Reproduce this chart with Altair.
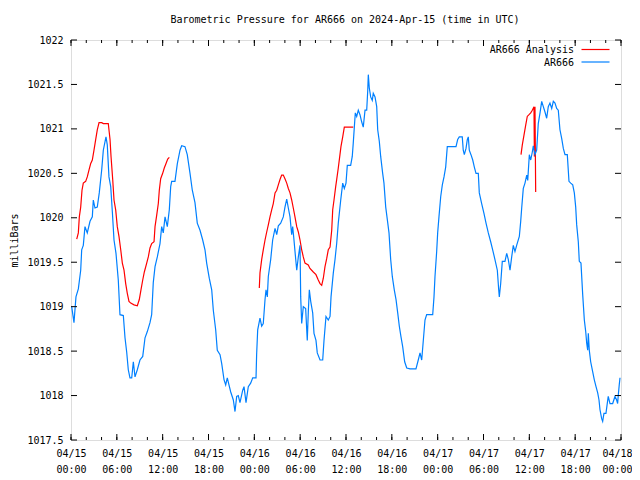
import altair as alt
import pandas as pd

# ---- data (hours since 2024-04-15 00:00 UTC, pressure in mb) ----
blue_hours = [0.09, 0.39, 0.65, 0.96, 1.27, 1.40, 1.61, 1.83, 2.13, 2.49, 2.79, 2.92, 3.14, 3.44, 3.70,
              4.02, 4.23, 4.58, 4.75, 4.97, 5.20, 5.41, 5.63, 5.89, 6.19, 6.41, 6.85, 7.07, 7.29, 7.50,
              7.72, 7.95, 8.16, 8.38, 8.68, 9.03, 9.39, 9.69, 9.99, 10.34, 10.56, 10.77, 11.00, 11.30,
              11.65, 11.87, 12.08, 12.31, 12.61, 12.87, 13.05, 13.18, 13.61, 13.92, 14.27, 14.49, 14.92,
              15.22, 15.58, 15.88, 16.23, 16.53, 16.89, 17.24, 17.54, 17.76, 18.10, 18.42, 18.63, 18.94,
              19.15, 19.51, 19.73, 20.03, 20.25, 20.46, 20.68, 20.91, 21.25, 21.47, 21.69, 21.90, 22.12,
              22.48, 22.65, 22.91, 23.21, 23.52, 23.79, 24.22, 24.30, 24.44, 24.74, 24.96, 25.17, 25.40,
              25.53, 25.70, 25.83, 26.14, 26.40, 26.71, 26.93, 27.14, 27.45, 27.79, 28.01, 28.24, 28.45,
              28.67, 28.89, 29.02, 29.19, 29.42, 29.55, 29.76, 29.98, 30.07, 30.20, 30.41, 30.72, 30.93,
              31.06, 31.20, 31.38, 31.64, 31.81, 32.07, 32.24, 32.60, 32.95, 33.12, 33.38, 33.68, 33.91,
              34.04, 34.34, 34.56, 34.78, 34.99, 35.31, 35.57, 35.78, 36.00, 36.17, 36.61, 36.82, 36.95,
              37.09, 37.22, 37.40, 37.61, 37.83, 38.05, 38.26, 38.49, 38.71, 38.84, 38.92, 39.05, 39.23,
              39.44, 39.57, 39.80, 40.02, 40.15, 40.36, 40.54, 40.80, 40.97, 41.20, 41.41, 41.63, 41.85,
              42.06, 42.32, 42.55, 42.77, 42.98, 43.20, 43.42, 43.68, 43.95, 44.38, 45.16, 45.46, 45.69,
              45.91, 46.12, 46.34, 46.56, 47.35, 47.52, 47.65, 47.87, 48.00, 48.17, 48.40, 48.61, 48.83,
              49.05, 49.26, 50.40, 50.62, 50.83, 51.22, 51.35, 51.49, 51.71, 51.88, 52.01, 52.14, 52.36,
              52.59, 52.80, 53.02, 53.32, 53.45, 53.76, 54.06, 54.33, 54.63, 54.94, 55.20, 55.50, 55.81,
              55.99, 56.07, 56.25, 56.46, 56.81, 57.04, 57.25, 57.47, 57.69, 57.90, 58.12, 58.34, 58.69,
              58.87, 59.00, 59.21, 59.43, 59.66, 59.79, 60.00, 60.18, 60.39, 60.52, 60.74, 60.96, 61.17,
              61.40, 61.62, 61.83, 62.05, 62.27, 62.48, 62.70, 62.93, 63.14, 63.36, 63.58, 63.79, 64.01,
              64.24, 64.45, 64.67, 64.97, 65.19, 65.42, 65.68, 65.89, 66.07, 66.20, 66.41, 66.54, 66.76,
              66.99, 67.20, 67.38, 67.51, 67.64, 67.72, 67.85, 68.03, 68.29, 68.50, 68.73, 68.95, 69.12,
              69.25, 69.47, 69.60, 69.77, 70.03, 70.20, 70.33, 70.56, 70.91, 71.21, 71.43, 71.56, 71.64,
              71.77, 71.87]
blue_mb = [1019.00, 1018.82, 1019.11, 1019.20, 1019.41, 1019.64, 1019.69, 1019.90, 1019.83, 1019.96, 1020.01,
           1020.20, 1020.11, 1020.12, 1020.28, 1020.54, 1020.76, 1020.91, 1020.82, 1020.46, 1020.35, 1020.07,
           1019.75, 1019.60, 1019.30, 1018.91, 1018.90, 1018.65, 1018.49, 1018.29, 1018.20, 1018.20, 1018.38,
           1018.21, 1018.29, 1018.40, 1018.44, 1018.65, 1018.72, 1018.82, 1018.91, 1019.27, 1019.45, 1019.56,
           1019.71, 1019.90, 1019.83, 1020.01, 1019.90, 1020.09, 1020.35, 1020.41, 1020.41, 1020.61, 1020.76,
           1020.81, 1020.80, 1020.71, 1020.50, 1020.31, 1020.17, 1019.94, 1019.86, 1019.75, 1019.64, 1019.49,
           1019.32, 1019.19, 1018.96, 1018.74, 1018.51, 1018.46, 1018.36, 1018.18, 1018.12, 1018.20, 1018.12,
           1018.04, 1017.95, 1017.82, 1017.99, 1018.00, 1017.92, 1018.06, 1018.10, 1017.92, 1018.10, 1018.14,
           1018.20, 1018.20, 1018.46, 1018.74, 1018.87, 1018.78, 1018.81, 1019.08, 1019.19, 1019.11, 1019.34,
           1019.53, 1019.75, 1019.88, 1019.81, 1019.91, 1019.94, 1020.01, 1020.12, 1020.21, 1020.11, 1020.01,
           1019.81, 1019.90, 1019.75, 1019.53, 1019.41, 1019.56, 1019.69, 1019.11, 1018.81, 1019.00, 1018.98,
           1018.62, 1018.93, 1019.19, 1019.06, 1018.93, 1018.70, 1018.62, 1018.48, 1018.40, 1018.40, 1018.62,
           1018.89, 1018.85, 1018.89, 1019.11, 1019.38, 1019.53, 1019.71, 1019.94, 1020.20, 1020.39, 1020.33,
           1020.39, 1020.59, 1020.59, 1020.69, 1020.84, 1021.02, 1021.18, 1021.14, 1021.21, 1021.16, 1021.08,
           1021.02, 1021.21, 1021.21, 1021.42, 1021.61, 1021.46, 1021.36, 1021.32, 1021.40, 1021.36, 1021.25,
           1020.99, 1020.86, 1020.69, 1020.50, 1020.39, 1020.12, 1019.98, 1019.83, 1019.53, 1019.34, 1019.19,
           1019.08, 1018.93, 1018.78, 1018.66, 1018.55, 1018.38, 1018.31, 1018.30, 1018.30, 1018.40, 1018.48,
           1018.40, 1018.62, 1018.85, 1018.91, 1018.91, 1019.11, 1019.34, 1019.62, 1019.83, 1020.01, 1020.24,
           1020.37, 1020.46, 1020.57, 1020.80, 1020.80, 1020.88, 1020.91, 1020.91, 1020.76, 1020.71, 1020.78,
           1020.88, 1020.91, 1020.76, 1020.71, 1020.65, 1020.57, 1020.50, 1020.50, 1020.28, 1020.16, 1020.05,
           1019.94, 1019.83, 1019.73, 1019.64, 1019.53, 1019.41, 1019.19, 1019.11, 1019.26, 1019.51, 1019.51,
           1019.60, 1019.53, 1019.41, 1019.56, 1019.69, 1019.62, 1019.69, 1019.79, 1019.96, 1020.11, 1020.33,
           1020.39, 1020.48, 1020.42, 1020.71, 1020.65, 1020.74, 1020.81, 1020.71, 1020.76, 1021.06, 1021.18,
           1021.31, 1021.25, 1021.19, 1021.12, 1021.25, 1021.29, 1021.23, 1021.31, 1021.29, 1021.23, 1021.21,
           1020.99, 1020.89, 1020.78, 1020.71, 1020.71, 1020.41, 1020.39, 1020.37, 1020.28, 1020.12, 1019.92,
           1019.73, 1019.51, 1019.49, 1019.13, 1018.85, 1018.72, 1018.59, 1018.51, 1018.70, 1018.51, 1018.38,
           1018.27, 1018.18, 1018.10, 1018.03, 1017.95, 1017.84, 1017.74, 1017.71, 1017.80, 1017.80, 1017.91,
           1017.99, 1017.91, 1017.91, 1017.99, 1017.95, 1017.91, 1018.00, 1018.12, 1018.20]

red1_hours = [0.75, 0.96, 1.09, 1.27, 1.44, 1.61, 1.92, 2.13, 2.36, 2.58, 2.79, 3.01, 3.23, 3.44, 3.67, 4.02,
              4.23, 4.88, 5.11, 5.24, 5.46, 5.63, 5.85, 6.06, 6.28, 6.51, 6.72, 6.94, 7.16, 7.37, 7.59, 7.82,
              8.25, 8.68, 8.94, 9.16, 9.39, 9.60, 9.91, 10.12, 10.34, 10.56, 10.87, 11.00, 11.22, 11.43, 11.56,
              11.74, 12.00, 12.21, 12.44, 12.66, 12.87]
red1_mb = [1019.76, 1019.83, 1020.01, 1020.12, 1020.31, 1020.39, 1020.41, 1020.46, 1020.54, 1020.61, 1020.65,
           1020.76, 1020.88, 1020.99, 1021.07, 1021.07, 1021.06, 1021.06, 1020.88, 1020.69, 1020.43, 1020.20,
           1020.09, 1019.90, 1019.79, 1019.64, 1019.49, 1019.41, 1019.26, 1019.15, 1019.06, 1019.04, 1019.02,
           1019.01, 1019.08, 1019.19, 1019.30, 1019.39, 1019.49, 1019.56, 1019.66, 1019.71, 1019.73, 1019.90,
           1020.03, 1020.16, 1020.31, 1020.44, 1020.50, 1020.56, 1020.61, 1020.66, 1020.68]

red2_hours = [24.65, 24.74, 24.96, 25.17, 25.40, 25.62, 25.83, 26.05, 26.27, 26.48, 26.71, 26.93, 27.14, 27.36,
              27.58, 27.79, 28.01, 28.24, 28.45, 28.67, 28.89, 29.10, 29.32, 29.55, 29.76, 29.98, 30.20, 30.41,
              30.63, 31.06, 31.28, 31.72, 32.07, 32.37, 32.60, 32.82, 33.03, 33.25, 33.47, 33.68, 33.91, 34.13,
              34.26, 34.43, 34.65, 34.78, 34.99, 35.21, 35.34, 35.57, 35.78, 36.09, 36.52, 36.95]
red2_mb = [1019.21, 1019.38, 1019.53, 1019.64, 1019.75, 1019.84, 1019.92, 1020.01, 1020.09, 1020.16, 1020.28,
           1020.31, 1020.37, 1020.43, 1020.48, 1020.48, 1020.44, 1020.39, 1020.33, 1020.28, 1020.20, 1020.11,
           1020.01, 1019.90, 1019.84, 1019.75, 1019.64, 1019.56, 1019.49, 1019.47, 1019.43, 1019.39, 1019.36,
           1019.30, 1019.26, 1019.24, 1019.32, 1019.45, 1019.54, 1019.64, 1019.67, 1019.86, 1020.09, 1020.20,
           1020.35, 1020.43, 1020.56, 1020.71, 1020.80, 1020.91, 1021.02, 1021.02, 1021.02, 1021.02]

red3_hours = [58.91, 59.08, 59.30, 59.52, 59.73, 59.96, 60.18, 60.39, 60.61, 60.66, 60.74, 60.83]
red3_mb = [1020.71, 1020.82, 1020.93, 1021.04, 1021.14, 1021.16, 1021.18, 1021.21, 1021.25, 1020.69,
           1021.25, 1020.29]

series_names = ["AR666 Analysis", "AR666"]
series_colors = ["#ff0000", "#0080ff"]
title_text = "Barometric Pressure for AR666 on 2024-Apr-15 (time in UTC)"

x_major_ticks = list(range(0, 73, 6))
x_minor_ticks = list(range(0, 73, 2))
y_ticks = [1017.5, 1018.0, 1018.5, 1019.0, 1019.5, 1020.0, 1020.5, 1021.0, 1021.5, 1022.0]

# ---- build tables ----
rows = []
for seg, (hs, ps) in enumerate([(red1_hours, red1_mb), (red2_hours, red2_mb), (red3_hours, red3_mb)]):
    for h, p in zip(hs, ps):
        rows.append({"hour": h, "p": p, "seg": seg, "series": series_names[0]})
red_df = pd.DataFrame(rows)
blue_df = pd.DataFrame({"hour": blue_hours, "p": blue_mb, "seg": 0, "series": series_names[1]})

FONT = "DejaVu Sans Mono"
W, H = 550, 400

xscale = alt.Scale(domain=[0, 72], nice=False, zero=False)
yscale = alt.Scale(domain=[1017.5, 1022], nice=False, zero=False)

x_axis = alt.Axis(
    values=x_major_ticks, ticks=False, domain=False, grid=False,
    labelExpr="['04/' + (15 + floor(datum.value / 24)), pad(toString(datum.value % 24), 2, '0', 'left') + ':00']",
    labelFont=FONT, labelFontSize=10, labelColor="black", labelPadding=8,
    labelLineHeight=16, labelBaseline="top", labelAlign="center",
    labelOffset={"condition": {"test": "datum.value == 72", "value": -4}, "value": 0},
    labelFlush=False, labelOverlap=False, labelBound=False, title=None,
)
y_axis = alt.Axis(
    values=y_ticks, ticks=False, domain=False, grid=False, format=".1~f",
    labelFont=FONT, labelFontSize=10, labelColor="black", labelPadding=8,
    labelFlush=False, labelOverlap=False, labelBound=False,
    title="milliBars", titleFont=FONT, titleFontSize=10, titleFontWeight="normal",
    titleColor="black", titleX=-52, titleY=200, titleAngle=270, titleBaseline="bottom",
    titleAlign="center",
)

red = alt.Chart(red_df).mark_line(strokeWidth=1.2, color=series_colors[0]).encode(
    x=alt.X("hour:Q", scale=xscale, axis=x_axis),
    y=alt.Y("p:Q", scale=yscale, axis=y_axis),
    detail="seg:N",
    order="hour:Q",
)
blue = alt.Chart(blue_df).mark_line(strokeWidth=1.2, color=series_colors[1]).encode(
    x=alt.X("hour:Q", scale=xscale),
    y=alt.Y("p:Q", scale=yscale),
    order="hour:Q",
)

xmaj = pd.DataFrame({"hour": x_major_ticks})
xmin = pd.DataFrame({"hour": x_minor_ticks})
yt = pd.DataFrame({"p": y_ticks})

tick_layers = [
    alt.Chart(xmaj).mark_rule(color="black", strokeWidth=1).encode(
        x=alt.X("hour:Q", scale=xscale), y=alt.value(H), y2=alt.value(H - 6)),
    alt.Chart(xmaj).mark_rule(color="black", strokeWidth=1).encode(
        x=alt.X("hour:Q", scale=xscale), y=alt.value(0), y2=alt.value(6)),
    alt.Chart(xmin).mark_rule(color="black", strokeWidth=1).encode(
        x=alt.X("hour:Q", scale=xscale), y=alt.value(H), y2=alt.value(H - 3)),
    alt.Chart(xmin).mark_rule(color="black", strokeWidth=1).encode(
        x=alt.X("hour:Q", scale=xscale), y=alt.value(0), y2=alt.value(3)),
    alt.Chart(yt).mark_rule(color="black", strokeWidth=1).encode(
        y=alt.Y("p:Q", scale=yscale), x=alt.value(0), x2=alt.value(6)),
    alt.Chart(yt).mark_rule(color="black", strokeWidth=1).encode(
        y=alt.Y("p:Q", scale=yscale), x=alt.value(W), x2=alt.value(W - 6)),
]

leg1 = pd.DataFrame({"label": [series_names[0]]})
leg2 = pd.DataFrame({"label": [series_names[1]]})
ttl = pd.DataFrame({"label": [title_text]})
text_layers = [
    alt.Chart(ttl).mark_text(font=FONT, fontSize=10, align="center", baseline="middle", color="black").encode(
        text="label:N", x=alt.value(274), y=alt.value(-20)),
    alt.Chart(leg1).mark_text(font=FONT, fontSize=10, align="right", baseline="middle", color="black").encode(
        text="label:N", x=alt.value(503), y=alt.value(10)),
    alt.Chart(leg1).mark_rule(color=series_colors[0], strokeWidth=1.2).encode(
        x=alt.value(510.5), x2=alt.value(538.5), y=alt.value(9.5)),
    alt.Chart(leg2).mark_text(font=FONT, fontSize=10, align="right", baseline="middle", color="black").encode(
        text="label:N", x=alt.value(503), y=alt.value(22.5)),
    alt.Chart(leg2).mark_rule(color=series_colors[1], strokeWidth=1.2).encode(
        x=alt.value(510.5), x2=alt.value(538.5), y=alt.value(22)),
]

chart = alt.layer(red, blue, *tick_layers, *text_layers).properties(
    width=W, height=H,
    padding={"left": 63, "top": 32, "right": 11, "bottom": 38},
    autosize="none",
).configure_view(stroke="black", strokeWidth=1).configure(background="white")

chart.save("out.html", embed_options={"renderer": "svg", "actions": False})
